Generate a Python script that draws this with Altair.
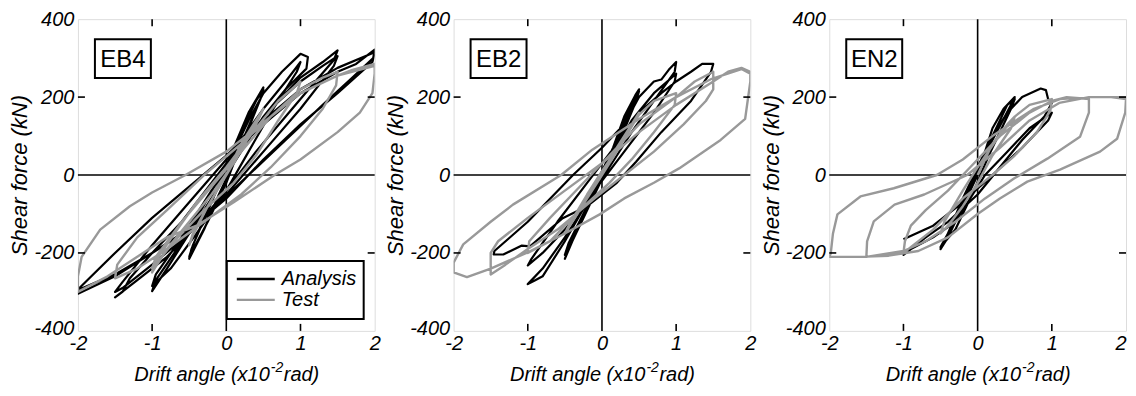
import altair as alt
import pandas as pd

# ---------------- data ----------------
panels = ["EB4", "EB2", "EN2"]
series_names = ["Analysis", "Test"]
x_ticks = [-2, -1, 0, 1, 2]
y_ticks = [-400, -200, 0, 200, 400]
inner_x_ticks = [-1, 1]
inner_y_ticks = [-200, 200]
x_title_parts = ["Drift angle (x10", "-2", "rad)"]
y_title = "Shear force (kN)"

EB4_ana_x = [0, 0.1, 0.25, 0.4, 0.5, 0.47, 0.3, 0.1, -0.1, -0.3, -0.5, -0.47, -0.3, -0.1, 0.1, 0.3, 0.5,
             0.46, 0.2, 0, -0.25, -0.5, -0.45, -0.2, 0.05, 0.3, 0.5, 0.75, 1.0, 1.1, 1.08,
             0.8, 0.5, 0.2, -0.1, -0.5, -0.8, -1.0, -0.95, -0.7, -0.4, -0.1, 0.2, 0.5, 0.8, 1.0,
             0.95, 0.6, 0.3, 0, -0.4, -0.75, -1.0, -0.95, -0.6, -0.2, 0.2, 0.6, 1.0, 1.3, 1.5,
             1.45, 1.2, 0.8, 0.4, 0, -0.4, -0.8, -1.2, -1.5, -1.4, -1.3, -1.0, -0.6, -0.2, 0.2, 0.6, 1.0, 1.3, 1.5,
             1.45, 1.0, 0.5, 0, -0.5, -1.0, -1.4, -1.5, -1.4, -1.0, -0.5, 0, 0.5, 1.0, 1.5, 1.75, 2.0,
             1.98, 1.7, 1.3, 0.8, 0.3, -0.2, -0.6, -1.0, -1.5, -2.0, -1.98, -1.5, -1.0, -0.5, 0, 0.5, 1.0, 1.5, 2.0,
             1.97, 1.5, 1.0, 0.5, 0, -0.5, -1.0, -1.5, -2.0]
EB4_ana_y = [0, 50, 130, 190, 220, 200, 120, 30, -50, -140, -215, -190, -110, -20, 70, 160, 225,
             195, 80, -20, -120, -210, -180, -70, 40, 140, 210, 265, 311, 303, 273,
             220, 150, 60, -30, -150, -240, -298, -270, -200, -110, -10, 90, 170, 240, 290,
             265, 160, 60, -40, -150, -240, -285, -255, -160, -40, 70, 170, 250, 290, 320,
             295, 240, 150, 60, -40, -130, -210, -270, -314, -300, -265, -200, -120, -20, 80, 170, 240, 280, 305,
             280, 170, 60, -50, -150, -230, -290, -300, -275, -180, -70, 40, 130, 210, 265, 285, 322,
             300, 250, 180, 90, 0, -90, -150, -200, -260, -305, -290, -200, -110, -30, 50, 140, 220, 275, 315,
             290, 210, 130, 40, -60, -140, -200, -255, -295]

EB4_test_x = [0, 0.2, 0.4, 0.5, 0.45, 0.25, 0, -0.25, -0.45, -0.5, -0.45, -0.25, 0, 0.25, 0.5,
              0.4, 0.1, -0.2, -0.5, -0.8, -1.0, -0.95, -0.7, -0.4, 0, 0.4, 0.7, 1.0,
              0.95, 0.7, 0.4, 0.1, -0.3, -0.7, -1.0,
              -0.95, -0.6, -0.2, 0.2, 0.6, 1.0, 1.3, 1.5, 1.48, 1.3, 1.0, 0.6, 0.2, -0.3, -0.8, -1.2, -1.5,
              -1.47, -1.2, -0.8, -0.3, 0.2, 0.6, 1.0, 1.5,
              1.7, 2.0, 2.0, 1.97, 1.8, 1.5, 1.0, 0.65, 0.1, -0.4, -0.8, -1.2, -1.6, -2.0,
              -2.0, -1.95, -1.7, -1.3, -1.0, -0.55, 0, 0.5, 1.0, 1.5, 2.0]
EB4_test_y = [0, 80, 140, 170, 150, 80, 0, -80, -150, -180, -155, -80, 0, 90, 170,
              130, 30, -50, -120, -190, -250, -220, -150, -70, 20, 120, 190, 240,
              210, 140, 50, -20, -90, -170, -240,
              -210, -120, -30, 60, 150, 220, 250, 265, 230, 170, 100, 20, -50, -120, -190, -240, -265,
              -230, -160, -90, 0, 80, 150, 210, 255,
              270, 285, 260, 210, 160, 110, 40, 0, -70, -130, -160, -210, -260, -300,
              -260, -210, -140, -80, -45, 0, 60, 135, 210, 255, 280]

EB2_ana_x = [0, 0.15, 0.3, 0.45, 0.5, 0.45, 0.2, 0, -0.2, -0.4, -0.5, -0.45, -0.2, 0, 0.2, 0.35, 0.5,
             0.45, 0.2, -0.05, -0.3, -0.5,
             -0.45, -0.2, 0.05, 0.3, 0.5, 0.6, 0.7, 0.8, 0.9, 1.0, 0.98, 0.7, 0.4, 0.1, -0.2, -0.5, -0.8, -1.0,
             -0.9, -0.8, -0.5, -0.2, 0.1, 0.4, 0.7, 1.0, 0.98, 0.7, 0.3, -0.1, -0.5, -0.8, -1.0,
             -0.95, -0.6, -0.2, 0.2, 0.5, 0.8, 1.0, 1.2, 1.35, 1.5, 1.47, 1.2, 0.8, 0.46, 0.2, -0.2, -0.53,
             -0.97, -1.08, -1.33, -1.46, -1.45, -1.0, -0.39, 0, 0.3]
EB2_ana_y = [0, 70, 150, 205, 220, 190, 90, 10, -80, -170, -215, -190, -90, -10, 80, 160, 215,
             185, 70, -30, -130, -205,
             -175, -80, 30, 130, 200, 220, 240, 245, 270, 290, 265, 190, 110, 20, -70, -160, -240, -280,
             -270, -260, -170, -70, 40, 140, 210, 260, 240, 160, 60, -40, -140, -200, -232,
             -215, -120, -20, 80, 160, 210, 240, 265, 285, 285, 265, 190, 110, 34, -20, -80, -111,
             -183, -181, -204, -204, -195, -120, 0, 70, 130]

EB2_test_x = [0, 0.2, 0.4, 0.5, 0.45, 0.2, 0, -0.2, -0.4, -0.5, -0.45, -0.2, 0, 0.25, 0.5,
              0.7, 1.0, 0.98, 0.7, 0.4, 0.1, -0.3, -0.7, -1.0, -0.98, -0.7, -0.3, 0.1, 0.5, 1.0,
              1.25, 1.5, 1.5, 1.4, 1.1, 0.7, 0.3, -0.1, -0.6, -1.0, -1.3, -1.5,
              -1.5, -1.4, -1.0, -0.5, 0, 0.5, 1.0, 1.5,
              1.7, 1.88, 2.0, 2.0, 1.93, 1.6, 1.04, 0.7, 0.3, -0.03, -0.5, -0.97, -1.5, -1.82, -2.0,
              -2.0, -1.87, -1.5, -1.2, -0.55, -0.13, 0.5, 1.0, 1.48, 1.88, 2.0]
EB2_test_y = [0, 70, 130, 160, 140, 60, 0, -60, -120, -150, -130, -50, 10, 80, 155,
              190, 210, 180, 110, 40, -20, -90, -170, -200, -170, -110, -30, 50, 130, 200,
              240, 265, 220, 190, 130, 60, 0, -60, -140, -190, -230, -255,
              -200, -170, -110, -40, 30, 110, 180, 240,
              265, 275, 265, 240, 144, 90, 17, -20, -60, -101, -150, -196, -240, -262, -250,
              -225, -178, -120, -76, 0, 65, 144, 200, 247, 272, 260]

EN2_ana_x = [0, 0.1, 0.2, 0.35, 0.5, 0.45, 0.2, 0, -0.2, -0.4, -0.5, -0.45, -0.2, 0, 0.2, 0.4, 0.5,
             0.45, 0.15, -0.05, -0.3, -0.5,
             -0.4, -0.2, 0, 0.2, 0.4, 0.6, 0.85, 0.92, 0.95, 1.0, 0.9, 0.6, 0.3, 0, -0.4, -0.7, -1.0,
             -0.9, -0.6, -0.3, -0.1, 0.1, 0.4, 0.7, 1.0, 0.95, 0.6, 0.2, -0.2, -0.6, -1.0]
EN2_ana_y = [0, 60, 120, 170, 200, 180, 90, 0, -80, -160, -190, -170, -70, 10, 100, 180, 195,
             170, 50, -40, -140, -185,
             -150, -60, 20, 100, 160, 200, 222, 218, 195, 185, 150, 90, 20, -50, -120, -160, -205,
             -190, -160, -120, -60, 0, 60, 120, 160, 140, 70, 0, -70, -130, -165]

EN2_test_x = [0, 0.2, 0.4, 0.5, 0.45, 0.2, 0, -0.2, -0.4, -0.5, -0.45, -0.2, 0, 0.25, 0.5,
              0.7, 1.0, 0.98, 0.8, 0.5, 0.2, -0.2, -0.6, -1.0,
              -0.98, -0.9, -0.7, -0.4, -0.1, 0.3, 0.7, 1.0,
              1.2, 1.5, 1.5, 1.38, 0.94, 0.49, 0.1, -0.3, -0.7, -1.0, -1.5,
              -1.49, -1.4, -1.12, -0.72, -0.14, 0.3, 0.7, 1.1, 1.5,
              1.8, 2.0, 1.99, 1.88, 1.65, 1.11, 0.67, 0.3, 0, -0.4, -0.8, -1.2, -1.6, -2.0,
              -1.98, -1.95, -1.89, -1.58, -1.13, -0.55, -0.2, 0.22, 0.76, 1.11, 1.5, 2.0]
EN2_test_y = [0, 80, 130, 150, 120, 50, -20, -80, -130, -150, -120, -40, 20, 90, 150,
              180, 195, 165, 110, 50, 0, -60, -140, -200,
              -170, -130, -90, -40, 20, 100, 160, 190,
              200, 195, 160, 98, 42, -9, -60, -120, -170, -195, -210,
              -170, -119, -76, -50, 0, 70, 140, 185, 200,
              200, 195, 160, 93, 60, 14, -17, -60, -100, -160, -195, -207, -210, -210,
              -201, -150, -101, -55, -34, 0, 40, 103, 170, 195, 200, 200]

curves = {
    "EB4": (EB4_ana_x, EB4_ana_y, EB4_test_x, EB4_test_y),
    "EB2": (EB2_ana_x, EB2_ana_y, EB2_test_x, EB2_test_y),
    "EN2": (EN2_ana_x, EN2_ana_y, EN2_test_x, EN2_test_y),
}

# ---------------- styling ----------------
W, H = 297, 312
SPACING = 79
FONT = "Liberation Sans"
BLACK = "#000000"
GRAY = "#999999"
TICK = 7

color_scale = alt.Scale(domain=series_names, range=[BLACK, GRAY])
x_scale = alt.Scale(domain=[-2, 2], nice=False, zero=False)
y_scale = alt.Scale(domain=[-400, 400], nice=False, zero=False)


def make_x_axis(last):
    align = ({"condition": {"test": "datum.value == 2", "value": "right"}, "value": "center"}
             if last else "center")
    return alt.Axis(values=x_ticks, title=None, grid=False, ticks=False,
                    domain=False, labelFlush=False, labelFont=FONT, labelFontStyle="italic",
                    labelFontSize=20, labelColor="black", labelPadding=3, labelAlign=align,
                    labelExpr="'' + datum.value", labelOverlap=False)


y_axis = alt.Axis(values=y_ticks, title=y_title, grid=False, ticks=False,
                  domain=False, labelFlush=False, labelFont=FONT, labelFontStyle="italic",
                  labelFontSize=20, labelColor="black", labelPadding=4,
                  labelExpr="'' + datum.value", labelOverlap=False,
                  labelOffset={"condition": {"test": "datum.value == -400", "value": -2},
                               "value": 0},
                  titleFont=FONT, titleFontStyle="italic", titleFontWeight="normal",
                  titleFontSize=22, titleColor="black", titlePadding=2)


def panel(name, with_legend, last):
    ax, ay, tx, ty = curves[name]
    df = pd.DataFrame({
        "x": list(ax) + list(tx),
        "y": list(ay) + list(ty),
        "series": ["Analysis"] * len(ax) + ["Test"] * len(tx),
        "i": list(range(len(ax))) + list(range(len(tx))),
    })
    base = alt.Chart(df)
    enc = dict(
        x=alt.X("x:Q", scale=x_scale, axis=make_x_axis(last)),
        y=alt.Y("y:Q", scale=y_scale, axis=y_axis),
        color=alt.Color("series:N", scale=color_scale, legend=None),
        order="i:Q",
    )
    ana = base.transform_filter(alt.datum.series == "Analysis").mark_line(
        strokeWidth=2.2, clip=True, strokeJoin="round").encode(**enc)
    test = base.transform_filter(alt.datum.series == "Test").mark_line(
        strokeWidth=2.4, clip=True, strokeJoin="round").encode(**enc)
    zero = pd.DataFrame({"v": [0]})
    vline = alt.Chart(zero).mark_rule(color="black", strokeWidth=1.6).encode(x=alt.X("v:Q", scale=x_scale))
    hline = alt.Chart(zero).mark_rule(color="black", strokeWidth=1.6).encode(y=alt.Y("v:Q", scale=y_scale))

    xt = pd.DataFrame({"v": inner_x_ticks})
    yt = pd.DataFrame({"v": inner_y_ticks})
    top_t = alt.Chart(xt).mark_rule(color="black", strokeWidth=1.6).encode(
        x=alt.X("v:Q", scale=x_scale), y=alt.value(0), y2=alt.value(TICK))
    bot_t = alt.Chart(xt).mark_rule(color="black", strokeWidth=1.6).encode(
        x=alt.X("v:Q", scale=x_scale), y=alt.value(H), y2=alt.value(H - TICK))
    left_t = alt.Chart(yt).mark_rule(color="black", strokeWidth=1.6).encode(
        y=alt.Y("v:Q", scale=y_scale), x=alt.value(0), x2=alt.value(TICK))
    right_t = alt.Chart(yt).mark_rule(color="black", strokeWidth=1.6).encode(
        y=alt.Y("v:Q", scale=y_scale), x=alt.value(W), x2=alt.value(W - TICK))

    lab = pd.DataFrame({"t": [name]})
    box = alt.Chart(lab).mark_rect(fill="white", stroke="black", strokeWidth=2).encode(
        x=alt.value(17), x2=alt.value(73), y=alt.value(20), y2=alt.value(59))
    txt = alt.Chart(lab).mark_text(font=FONT, fontSize=24, color="black", align="center",
                                   baseline="middle").encode(
        x=alt.value(45), y=alt.value(40.5), text="t:N")

    # x-axis title with a raised "-2" exponent
    tt = pd.DataFrame({"t": [x_title_parts[0]]})
    ts = pd.DataFrame({"t": [x_title_parts[1]]})
    tr = pd.DataFrame({"t": [x_title_parts[2]]})
    ttl_a = alt.Chart(tt).mark_text(font=FONT, fontSize=20, fontStyle="italic", color="black",
                                    align="right", baseline="alphabetic").encode(
        x=alt.value(192), y=alt.value(H + 50), text="t:N")
    ttl_b = alt.Chart(ts).mark_text(font=FONT, fontSize=14, fontStyle="italic", color="black",
                                    align="left", baseline="alphabetic").encode(
        x=alt.value(193), y=alt.value(H + 41), text="t:N")
    ttl_c = alt.Chart(tr).mark_text(font=FONT, fontSize=20, fontStyle="italic", color="black",
                                    align="left", baseline="alphabetic").encode(
        x=alt.value(206), y=alt.value(H + 50), text="t:N")

    layers = [vline, hline, ana, test, top_t, bot_t, left_t, right_t, box, txt, ttl_a, ttl_b, ttl_c]

    if with_legend:
        leg = pd.DataFrame({"s": series_names, "yy": [260, 281]})
        lbox = alt.Chart(pd.DataFrame({"a": [1]})).mark_rect(
            fill="white", stroke="black", strokeWidth=2).encode(
            x=alt.value(149), x2=alt.value(286), y=alt.value(242), y2=alt.value(300))
        lline = alt.Chart(leg).mark_rule(strokeWidth=2.4).encode(
            x=alt.value(159), x2=alt.value(197), y=alt.Y("yy:Q", scale=None),
            color=alt.Color("s:N", scale=color_scale, legend=None))
        ltxt = alt.Chart(leg).mark_text(font=FONT, fontSize=20, fontStyle="italic", color="black",
                                        align="left", baseline="middle").encode(
            x=alt.value(204), y=alt.Y("yy:Q", scale=None), text="s:N")
        layers += [lbox, lline, ltxt]

    return alt.layer(*layers).properties(width=W, height=H)


chart = alt.hconcat(panel("EB4", True, False), panel("EB2", False, False),
                    panel("EN2", False, True),
                    spacing=SPACING, bounds="flush").configure_view(
    stroke="black", strokeWidth=2).configure(
    background="white", padding={"left": 0, "top": 0, "right": 0, "bottom": 0})

chart.save("out.html", embed_options={"renderer": "svg", "actions": False})
